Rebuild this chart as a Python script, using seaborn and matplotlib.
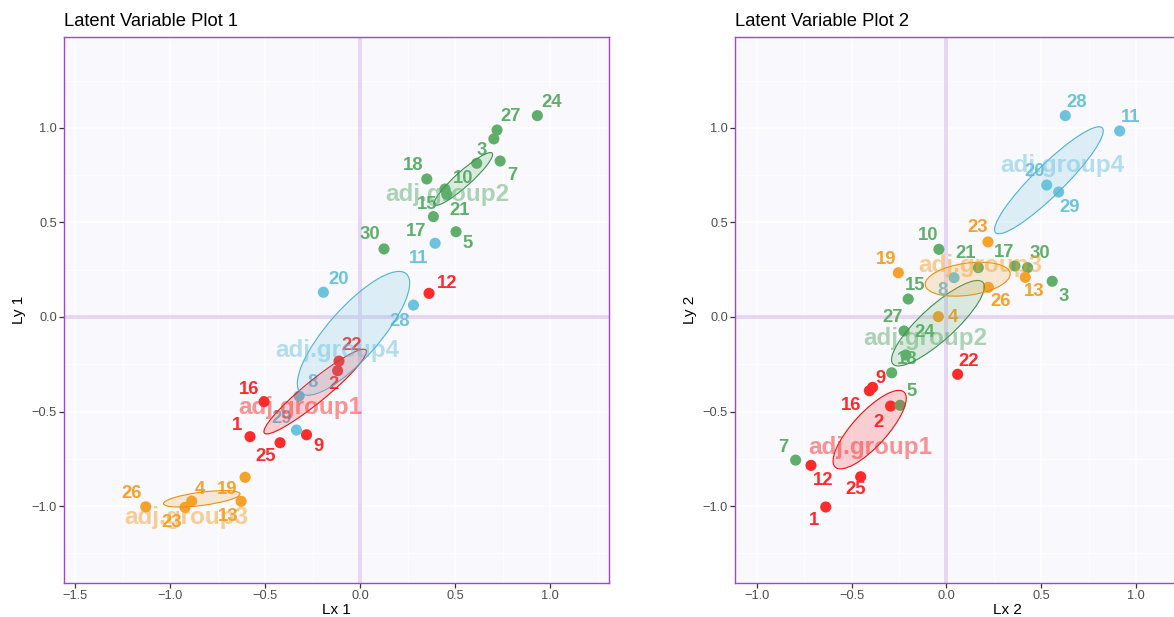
import numpy as np
import pandas as pd
import matplotlib
matplotlib.use("Agg")
import matplotlib.pyplot as plt
from matplotlib.patches import Ellipse
import seaborn as sns

sns.set_theme(style="white")
plt.rcParams["font.family"] = ["Liberation Sans", "DejaVu Sans"]

# ---- data -------------------------------------------------------------
group_names = ["adj.group1", "adj.group2", "adj.group3", "adj.group4"]
group_members = {
    "adj.group1": [1, 2, 9, 12, 16, 22, 25],
    "adj.group2": [3, 5, 7, 10, 15, 17, 18, 21, 24, 27, 30],
    "adj.group3": [4, 13, 19, 23, 26],
    "adj.group4": [8, 11, 20, 28, 29],
}
sample_order = [s for g in group_names for s in group_members[g]]

# latent variable scores, component 1 (Lx 1 / Ly 1), in sample_order
lx1 = [-0.579, -0.118, -0.282, 0.363, -0.505, -0.111, -0.421,
       0.704, 0.505, 0.737, 0.614, 0.447, 0.386, 0.351, 0.456, 0.933, 0.721, 0.126,
       -0.886, -0.626, -0.605, -0.921, -1.128,
       -0.321, 0.395, -0.193, 0.281, -0.335]
ly1 = [-0.633, -0.284, -0.623, 0.125, -0.448, -0.233, -0.665,
       0.942, 0.451, 0.825, 0.813, 0.677, 0.531, 0.730, 0.649, 1.065, 0.989, 0.360,
       -0.974, -0.975, -0.848, -1.007, -1.004,
       -0.418, 0.390, 0.131, 0.063, -0.598]
# component 2 (Lx 2 / Ly 2)
lx2 = [-0.637, -0.295, -0.390, -0.715, -0.407, 0.059, -0.453,
       0.558, -0.245, -0.796, -0.040, -0.202, 0.361, -0.289, 0.168, -0.214, -0.224, 0.428,
       -0.043, 0.416, -0.254, 0.219, 0.221,
       0.040, 0.914, 0.529, 0.627, 0.592]
ly2 = [-1.005, -0.471, -0.372, -0.785, -0.390, -0.303, -0.845,
       0.189, -0.467, -0.757, 0.358, 0.095, 0.270, -0.295, 0.261, -0.201, -0.074, 0.261,
       0.002, 0.210, 0.234, 0.397, 0.157,
       0.208, 0.984, 0.698, 1.065, 0.661]

# ellipse shapes per group: (semi-major, semi-minor, angle in degrees)
ellipse_shape_1 = {"adj.group1": (0.346, 0.058, 39.4), "adj.group2": (0.204, 0.040, 42.0),
                   "adj.group3": (0.203, 0.035, 7.4), "adj.group4": (0.420, 0.135, 48.6)}
ellipse_shape_2 = {"adj.group1": (0.269, 0.090, 47.6), "adj.group2": (0.321, 0.090, 42.3),
                   "adj.group3": (0.226, 0.085, 7.9), "adj.group4": (0.395, 0.080, 44.6)}

# ---- styling / layout ---------------------------------------------------
palette = {"adj.group1": "#FF2A2A", "adj.group2": "#5FAF6B",
           "adj.group3": "#F5A12A", "adj.group4": "#6CC3DE"}
edge_palette = {"adj.group1": "#F01010", "adj.group2": "#3E9150",
                "adj.group3": "#EE8F10", "adj.group4": "#4FB2D2"}

# label offsets in pixels (dx, dy) for each sample's number
label_off_1 = {24: (14, 13), 27: (14, 14), 3: (-12, -12), 7: (12, -14), 10: (-14, -15),
               18: (-14, 13), 15: (-18, -15), 21: (13, -16), 17: (-17, -15), 5: (12, -12),
               30: (-14, 14), 20: (15, 13), 11: (-16, -15), 28: (-14, -16), 8: (13, 14),
               29: (-15, 12), 12: (18, 10), 22: (13, 16), 2: (-4, -14), 16: (-15, 12),
               1: (-13, 11), 25: (-14, -14), 9: (12, -12), 26: (-14, 13), 23: (-13, -15),
               4: (8, 12), 19: (-18, -12), 13: (-13, -15)}
label_off_2 = {28: (11, 13), 11: (11, 13), 20: (-12, 14), 29: (11, -15), 8: (-11, -13),
               23: (-10, 14), 26: (12, -14), 13: (9, -14), 4: (15, -1), 21: (-13, 14),
               17: (-11, 13), 30: (12, 14), 3: (11, -15), 10: (-11, 14), 19: (-12, 13),
               15: (7, 14), 27: (-11, 13), 24: (19, 22), 18: (15, 13), 22: (11, 13),
               9: (8, 9), 5: (12, 14), 16: (-18, -15), 2: (-12, -16), 7: (-12, 13),
               12: (12, -15), 25: (-5, -13), 1: (-12, -14)}
group_label_pos_1 = {"adj.group1": (-0.315, -0.481), "adj.group2": (0.458, 0.646),
                     "adj.group3": (-0.916, -1.058), "adj.group4": (-0.118, -0.175)}
group_label_pos_2 = {"adj.group1": (-0.404, -0.688), "adj.group2": (-0.113, -0.116),
                     "adj.group3": (0.177, 0.270), "adj.group4": (0.609, 0.799)}

BG = "#F8F8FD"
BORDER = "#A044D4"
ZERO = "#E6D6F3"

W, H = 1174, 617
fig = plt.figure(figsize=(W / 100, H / 100), dpi=100)
fig.patch.set_facecolor("white")

panel_w = 545 / W
panel_h = 546 / H
bottom = 1 - 583 / H
ax1 = fig.add_axes([64 / W, bottom, panel_w, panel_h])
ax2 = fig.add_axes([735 / W, bottom, panel_w, panel_h])

groups_col = [g for g in group_names for _ in group_members[g]]


def fmt(v, _):
    return f"{v:.1f}".replace("-", "\u2212")


def draw_panel(ax, xs, ys, shapes, offsets, gpos, title, xlabel, ylabel, xlim, ylim):
    df = pd.DataFrame({"sample": sample_order, "lx": xs, "ly": ys, "group": groups_col})
    ax.set_facecolor(BG)

    ax.set_xticks(np.arange(-1.5, 2.01, 0.5))
    ax.set_yticks(np.arange(-1.0, 1.01, 0.5))
    ax.set_xticks(np.arange(-1.75, 2.01, 0.25), minor=True)
    ax.set_yticks(np.arange(-1.25, 1.51, 0.25), minor=True)
    ax.grid(which="major", color="white", lw=1.1, zorder=0)
    ax.grid(which="minor", color="white", lw=0.6, zorder=0)
    ax.set_axisbelow(True)

    ax.axhline(0, color=ZERO, lw=2.8, zorder=1)
    ax.axvline(0, color=ZERO, lw=2.8, zorder=1)

    sns.scatterplot(data=df, x="lx", y="ly", hue="group", palette=palette,
                    s=64, edgecolor="none", linewidth=0, legend=False, ax=ax, zorder=3)

    for _, r in df.iterrows():
        dx, dy = offsets[r["sample"]]
        ax.annotate(str(r["sample"]), (r["lx"], r["ly"]), xytext=(dx, dy),
                    textcoords="offset pixels", ha="center", va="center",
                    fontsize=13.3, fontweight="bold", color=palette[r["group"]], zorder=4)

    for g in group_names:
        sub = df[df["group"] == g]
        cx, cy = sub["lx"].mean(), sub["ly"].mean()
        a, b, ang = shapes[g]
        ax.add_patch(Ellipse((cx, cy), 2 * a, 2 * b, angle=ang,
                             facecolor=palette[g], alpha=0.2, edgecolor="none", zorder=5))
        ax.add_patch(Ellipse((cx, cy), 2 * a, 2 * b, angle=ang,
                             facecolor="none", edgecolor=edge_palette[g], lw=0.8, zorder=5))
        tx, ty = gpos[g]
        ax.text(tx, ty, g, ha="center", va="center", fontsize=17.5, fontweight="bold",
                color=palette[g], alpha=0.5, zorder=6)

    ax.set_xlim(*xlim)
    ax.set_ylim(*ylim)

    for sp in ax.spines.values():
        sp.set_visible(True)
        sp.set_color(BORDER)
        sp.set_linewidth(1.0)
    ax.tick_params(which="major", direction="out", length=3.5, width=0.9,
                   color="#333333", labelcolor="#4D4D4D", labelsize=9.2, pad=1.5,
                   bottom=True, left=True)
    ax.tick_params(which="minor", length=0)
    ax.xaxis.set_major_formatter(matplotlib.ticker.FuncFormatter(fmt))
    ax.yaxis.set_major_formatter(matplotlib.ticker.FuncFormatter(fmt))
    ax.set_xlabel(xlabel, fontsize=11, color="black", labelpad=1)
    ax.set_ylabel(ylabel, fontsize=11, color="black", labelpad=4)
    ax.set_title(title, loc="left", fontsize=13.2, color="black", pad=8)


draw_panel(ax1, lx1, ly1, ellipse_shape_1, label_off_1, group_label_pos_1,
           "Latent Variable Plot 1", "Lx 1", "Ly 1", (-1.558, 1.31), (-1.407, 1.481))
draw_panel(ax2, lx2, ly2, ellipse_shape_2, label_off_2, group_label_pos_2,
           "Latent Variable Plot 2", "Lx 2", "Ly 2", (-1.116, 1.76), (-1.407, 1.481))

fig.savefig("out.png", dpi=100, facecolor="white")
